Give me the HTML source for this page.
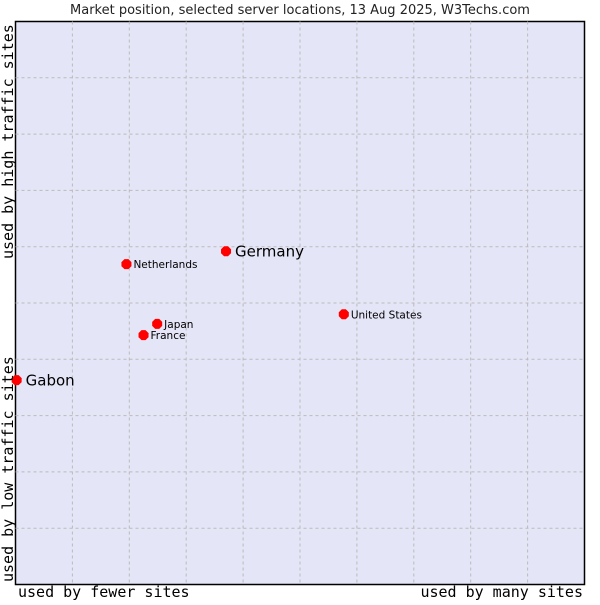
<!DOCTYPE html>
<html><head><meta charset="utf-8"><style>
html,body{margin:0;padding:0;background:#fff;}
svg text{font-family:"DejaVu Sans","Liberation Sans",sans-serif;}
.mono{font-family:"DejaVu Sans Mono","Liberation Mono",monospace !important;}
</style></head><body>
<svg id="chart" width="600" height="600" xmlns="http://www.w3.org/2000/svg">
<text x="300" y="14" text-anchor="middle" font-size="13" fill="#222">Market position, selected server locations, 13 Aug 2025, W3Techs.com</text>
<rect x="15.5" y="21.5" width="569" height="563" fill="#e4e5f7" stroke="#000" stroke-width="1.5"/>
<g id="grid"></g>
<g id="points"></g>
<text class="mono" x="18" y="597" font-size="15" fill="#000">used by fewer sites</text>
<text class="mono" x="583" y="597" font-size="15" text-anchor="end" fill="#000">used by many sites</text>
<text class="mono" transform="translate(13,582) rotate(-90)" font-size="15" fill="#000">used by low traffic sites</text>
<text class="mono" transform="translate(13,259) rotate(-90)" font-size="15" fill="#000">used by high traffic sites</text>
</svg>
<script>
const names = ["Gabon","Germany","Netherlands","Japan","France","United States"];
const xValues = [0.2, 37.0, 19.5, 24.9, 22.5, 57.7];
const yValues = [36.3, 59.2, 56.9, 46.3, 44.3, 48.0];
const bigLabel = [true, true, false, false, false, false];
const gridTicks = [10,20,30,40,50,60,70,80,90];
const X0=15.5,X1=584.5,Y0=584.5,Y1=21.5;
const sx=v=>X0+(X1-X0)*v/100, sy=v=>Y0-(Y0-Y1)*v/100;
const NS="http://www.w3.org/2000/svg";
const grid=document.getElementById('grid');
gridTicks.forEach(t=>{
  const v=document.createElementNS(NS,'line');
  
  
  v.setAttribute('x1',sx(t));v.setAttribute('x2',sx(t));v.setAttribute('y1',Y1);v.setAttribute('y2',Y0);
  v.setAttribute('stroke','#bbb');v.setAttribute('stroke-dasharray','3,3');
  grid.appendChild(v);
  const h=document.createElementNS(NS,'line');
  
  
  h.setAttribute('y1',sy(t));h.setAttribute('y2',sy(t));h.setAttribute('x1',X0);h.setAttribute('x2',X1);
  h.setAttribute('stroke','#bbb');h.setAttribute('stroke-dasharray','3,3');
  grid.appendChild(h);
});
const pts=document.getElementById('points');
names.forEach((n,i)=>{
  const x=sx(xValues[i]),y=sy(yValues[i]);
  const p=document.createElementNS(NS,'polygon');
  
  
  p.setAttribute('points',`${x-2},${y-5} ${x+2},${y-5} ${x+5},${y-2} ${x+5},${y+2} ${x+2},${y+5} ${x-2},${y+5} ${x-5},${y+2} ${x-5},${y-2}`);
  p.setAttribute('fill','#f00');
  pts.appendChild(p);
  const t=document.createElementNS(NS,'text');
  
  
  t.setAttribute('x',x+(bigLabel[i]?9:7));
  t.setAttribute('y',y+(bigLabel[i]?5.5:4));
  t.setAttribute('font-size',bigLabel[i]?15:10.5);
  t.setAttribute('fill','#000');
  t.textContent=n;
  pts.appendChild(t);
});
</script>
</body></html>
